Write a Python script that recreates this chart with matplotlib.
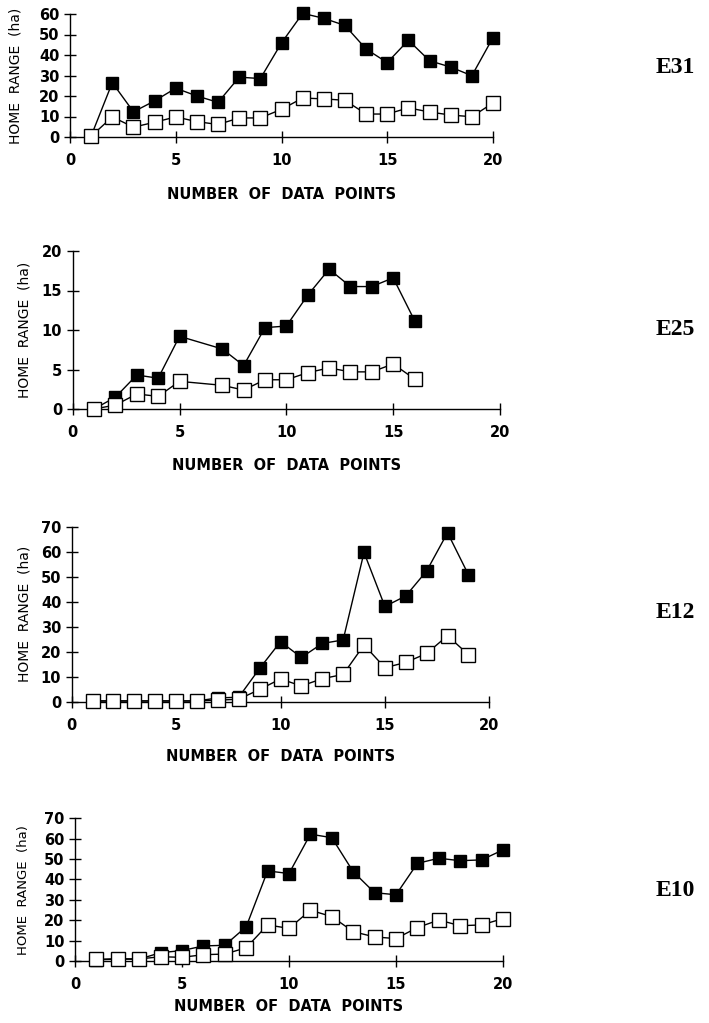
import matplotlib
matplotlib.use('Agg')
import matplotlib.pyplot as plt

# E31
E31_x = [1, 2, 3, 4, 5, 6, 7, 8, 9, 10, 11, 12, 13, 14, 15, 16, 17, 18, 19, 20]
E31_filled = [0.5, 26.5, 12.3, 17.6, 23.8, 20.0, 16.9, 29.2, 28.5, 45.9, 60.3, 57.9, 54.4,
              42.9, 36.3, 47.2, 37.2, 34.1, 29.9, 48.5]
E31_open = [0.4, 9.8, 4.8, 7.2, 9.8, 7.5, 6.1, 9.3, 9.3, 13.5, 19.0, 18.6, 17.9,
            11.2, 11.2, 14.2, 12.2, 10.7, 9.9, 16.6]

# E25 (no point at 6)
E25_x = [1, 2, 3, 4, 5, 7, 8, 9, 10, 11, 12, 13, 14, 15, 16]
E25_filled = [0.0, 1.5, 4.3, 3.9, 9.2, 7.6, 5.5, 10.3, 10.5, 14.4, 17.7, 15.5, 15.5, 16.6, 11.2]
E25_open = [0.0, 0.5, 1.9, 1.6, 3.5, 3.0, 2.4, 3.7, 3.7, 4.6, 5.2, 4.7, 4.7, 5.7, 3.8]

# E12
E12_x = [1, 2, 3, 4, 5, 6, 7, 8, 9, 10, 11, 12, 13, 14, 15, 16, 17, 18, 19]
E12_filled = [0.3, 0.3, 0.3, 0.3, 0.3, 0.3, 1.5, 1.8, 13.3, 24.0, 17.7, 23.3, 24.7,
              59.7, 38.1, 42.3, 52.3, 67.6, 50.8]
E12_open = [0.3, 0.3, 0.3, 0.3, 0.3, 0.3, 0.6, 1.0, 4.9, 9.1, 6.3, 9.2, 10.9,
            22.7, 13.6, 15.7, 19.3, 26.4, 18.8]

# E10
E10_x = [1, 2, 3, 4, 5, 6, 7, 8, 9, 10, 11, 12, 13, 14, 15, 16, 17, 18, 19, 20]
E10_filled = [0.6, 0.9, 0.9, 4.1, 5.1, 7.4, 7.7, 16.8, 44.2, 42.9, 62.2, 60.5, 43.8,
              33.5, 32.5, 47.9, 50.4, 49.2, 49.6, 54.5]
E10_open = [0.8, 1.1, 1.0, 2.1, 1.8, 3.1, 3.4, 6.5, 17.7, 16.0, 24.9, 21.8, 14.4,
            11.8, 11.0, 16.4, 20.1, 17.3, 17.7, 20.8]

names = ['E31', 'E25', 'E12', 'E10']
xs = [E31_x, E25_x, E12_x, E10_x]
filled = [E31_filled, E25_filled, E12_filled, E10_filled]
opens = [E31_open, E25_open, E12_open, E10_open]
ymax = [60, 20, 70, 70]
ystep = [10, 5, 10, 10]

W, H = 709, 1023
# axes boxes in pixels: left, x-right, y of zero line, y of top
boxes = [(70, 493, 137, 14),
         (72.7, 500, 409, 251),
         (71.7, 489.3, 701.7, 526.7),
         (75, 503, 961, 818.3)]
ylab_x = [22, 32, 32, 30]
ylab_size = [10, 10, 10, 9.5]
xlab_pad = [14, 13, 12, 5]
name_y = [68, 330, 612, 890]

fig = plt.figure(figsize=(W / 100, H / 100), dpi=100)
for i in range(4):
    l, r, b, t = boxes[i]
    ax = fig.add_axes([l / W, 1 - b / H, (r - l) / W, (b - t) / H])
    ax.plot(xs[i], filled[i], '-s', color='black', lw=1, ms=8.5,
            mfc='black', mec='black', clip_on=False, zorder=3)
    ax.plot(xs[i], opens[i], '-s', color='black', lw=1, ms=9.5,
            mfc='white', mec='black', mew=1, clip_on=False, zorder=4)
    ax.set_xlim(0, 20)
    ax.set_ylim(0, ymax[i])
    ax.set_xticks([0, 5, 10, 15, 20])
    ax.set_yticks(range(0, ymax[i] + 1, ystep[i]))
    for s in ['top', 'right']:
        ax.spines[s].set_visible(False)
    ax.spines['left'].set_linewidth(1)
    ax.spines['bottom'].set_linewidth(1)
    ax.tick_params(axis='both', direction='inout', length=9, width=1)
    ax.tick_params(axis='x', pad=7)
    ax.tick_params(axis='y', pad=3)
    for lab in ax.get_xticklabels() + ax.get_yticklabels():
        lab.set_fontsize(10.5)
        lab.set_fontweight('bold')
    ax.set_xlabel('NUMBER  OF  DATA  POINTS', fontsize=10.5, fontweight='bold',
                  labelpad=xlab_pad[i])
    ax.set_ylabel('HOME  RANGE  (ha)', fontsize=ylab_size[i])
    ax.yaxis.set_label_coords((ylab_x[i] - l) / (r - l), 0.5)
    fig.text(675 / W, 1 - name_y[i] / H, names[i], family='Liberation Serif',
             fontweight='bold', fontsize=17, ha='center', va='center')

fig.savefig('out.png', dpi=100)
